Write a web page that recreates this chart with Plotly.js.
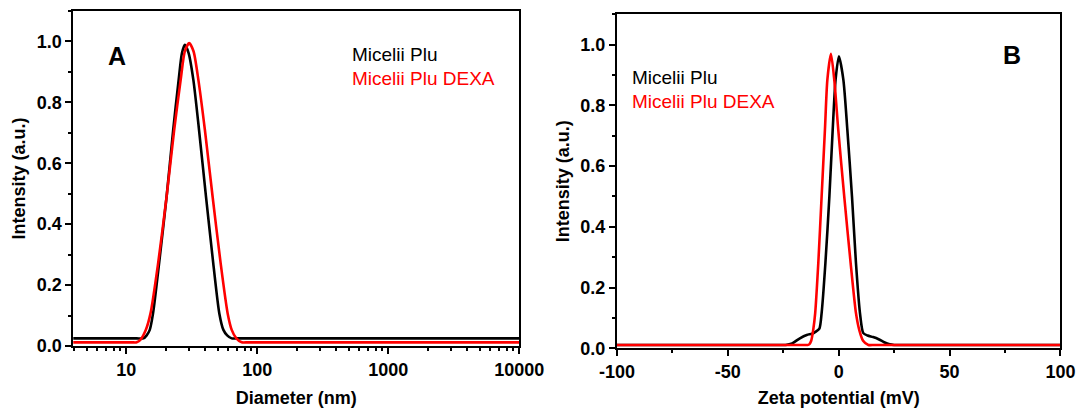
<!DOCTYPE html>
<html>
<head>
<meta charset="utf-8">
<script src="https://cdn.plot.ly/plotly-3.0.1.min.js"></script>
<style>
  html, body { margin: 0; padding: 0; background: #fff; }
  #chart { width: 1076px; height: 408px; }
</style>
</head>
<body>
<div id="chart"></div>
<script>
// Panel A: size distribution (diameter, nm)
const diamPlu = [3.9, 6, 9, 12, 13.5, 14.3, 15.1, 16.0, 17.8, 20.3, 22.8, 25.1, 26.6, 28.0, 29.9, 32.5, 35.9, 40.6, 46.1, 51.3, 55.1, 58.9, 63.8, 70, 90, 150, 400, 1000, 3000, 10000];
const intPlu  = [0.025, 0.025, 0.025, 0.025, 0.025, 0.035, 0.053, 0.107, 0.272, 0.49, 0.71, 0.874, 0.962, 0.989, 0.962, 0.874, 0.71, 0.49, 0.272, 0.107, 0.053, 0.035, 0.025, 0.025, 0.025, 0.025, 0.025, 0.025, 0.025, 0.025];

const diamDexa = [3.9, 6, 9, 11, 12.0, 12.9, 14.1, 15.3, 17.5, 20.3, 23.2, 26.0, 28.0, 30.2, 32.6, 35.5, 39.8, 45.6, 52.5, 59.4, 63.8, 69.2, 76.0, 85, 110, 200, 500, 1000, 3000, 10000];
const intDexa  = [0.012, 0.012, 0.012, 0.012, 0.012, 0.022, 0.053, 0.107, 0.272, 0.49, 0.71, 0.874, 0.968, 0.995, 0.968, 0.874, 0.71, 0.49, 0.272, 0.107, 0.053, 0.025, 0.012, 0.012, 0.012, 0.012, 0.012, 0.012, 0.012, 0.012];

// Panel B: zeta potential distribution (mV)
const zetaPlu    = [-100, -75, -50, -35, -28, -24, -21, -17.5, -14.4, -12, -10.5, -8.7, -7.7, -6.0, -4.2, -2.7, -1.4, 0.1, 2.1, 3.9, 6.0, 7.8, 9.6, 11.1, 13, 15.5, 18, 20.5, 23, 25, 29, 35, 50, 75, 100];
const zetaIntPlu = [0.011, 0.011, 0.011, 0.011, 0.011, 0.011, 0.016, 0.033, 0.044, 0.048, 0.054, 0.065, 0.116, 0.28, 0.50, 0.72, 0.885, 0.962, 0.885, 0.72, 0.50, 0.28, 0.116, 0.05, 0.042, 0.037, 0.03, 0.02, 0.013, 0.011, 0.011, 0.011, 0.011, 0.011, 0.011];

const zetaDexa    = [-100, -75, -50, -30, -20, -16, -14, -13.3, -12.4, -11.5, -10.6, -9.2, -7.7, -6.2, -5.1, -3.5, -2.0, -0.2, 2.5, 5.4, 7.8, 9.3, 11, 13.4, 16, 20, 30, 50, 75, 100];
const zetaIntDexa = [0.011, 0.011, 0.011, 0.011, 0.011, 0.011, 0.011, 0.013, 0.025, 0.06, 0.116, 0.28, 0.50, 0.72, 0.885, 0.970, 0.885, 0.72, 0.50, 0.28, 0.116, 0.06, 0.025, 0.011, 0.011, 0.011, 0.011, 0.011, 0.011, 0.011];

// Axis tick labels
const diamTicks = [10, 100, 1000, 10000];
const diamTickText = ['10', '100', '1000', '10000'];
const zetaTicks = [-100, -50, 0, 50, 100];
const zetaTickText = ['-100', '-50', '0', '50', '100'];

const seriesNames = ['Micelii Plu', 'Micelii Plu DEXA'];
const seriesColors = ['#000000', '#ff0000'];

const FONT = 'Liberation Sans, Arial, sans-serif';
const tickFont = { family: FONT, size: 18, color: '#000', weight: 'bold' };
const titleFont = { family: FONT, size: 18, color: '#000', weight: 'bold' };

function line(x, y, i, xa, ya) {
  return {
    x: x, y: y, xaxis: xa, yaxis: ya, name: seriesNames[i],
    type: 'scatter', mode: 'lines',
    line: { color: seriesColors[i], width: 2.6, shape: 'spline', smoothing: 0.7 },
    showlegend: false, hoverinfo: 'x+y'
  };
}

const traces = [
  line(diamPlu, intPlu, 0, 'x', 'y'),
  line(diamDexa, intDexa, 1, 'x', 'y'),
  line(zetaPlu, zetaIntPlu, 0, 'x2', 'y2'),
  line(zetaDexa, zetaIntDexa, 1, 'x2', 'y2')
];

const frame = {
  showline: true, linecolor: '#000', linewidth: 2, mirror: true,
  showgrid: false, zeroline: false,
  ticks: 'outside', ticklen: 6, tickwidth: 2, tickcolor: '#000',
  tickfont: tickFont
};

const yFrame = Object.assign({}, frame, {
  range: [0, 1.1], dtick: 0.2, tick0: 0, tickformat: '.1f',
  minor: { dtick: 0.1, ticks: 'outside', ticklen: 3, tickwidth: 2, tickcolor: '#000' }
});

const layout = {
  width: 1076, height: 408,
  margin: { l: 0, r: 0, t: 0, b: 0 },
  paper_bgcolor: '#fff', plot_bgcolor: '#fff',
  showlegend: false,
  xaxis: Object.assign({}, frame, {
    type: 'log', range: [0.595, 4.0005],
    tickmode: 'array', tickvals: diamTicks, ticktext: diamTickText,
    domain: [0.0681, 0.4826], anchor: 'y',
    minor: { dtick: 'D1', ticks: 'outside', ticklen: 3, tickwidth: 2, tickcolor: '#000' },
    title: { text: 'Diameter (nm)', font: titleFont, standoff: 15 }
  }),
  yaxis: Object.assign({}, yFrame, {
    domain: [0.152, 0.973], anchor: 'x',
    title: { text: 'Intensity (a.u.)', font: titleFont, standoff: 6 }
  }),
  xaxis2: Object.assign({}, frame, {
    range: [-100, 100],
    tickmode: 'array', tickvals: zetaTicks, ticktext: zetaTickText,
    domain: [0.5734, 0.9855], anchor: 'y2',
    minor: { dtick: 25, tick0: 0, ticks: 'outside', ticklen: 3, tickwidth: 2, tickcolor: '#000' },
    title: { text: 'Zeta potential (mV)', font: titleFont, standoff: 15 }
  }),
  yaxis2: Object.assign({}, yFrame, {
    domain: [0.1463, 0.965], anchor: 'x2',
    title: { text: 'Intensity (a.u.)', font: titleFont, standoff: 6 }
  }),
  annotations: [
    { text: 'A', xref: 'paper', yref: 'paper', x: 117 / 1076, y: (408 - 56) / 408,
      xanchor: 'center', yanchor: 'middle', showarrow: false,
      font: { family: FONT, size: 25, color: '#000', weight: 'bold' } },
    { text: 'B', xref: 'paper', yref: 'paper', x: 1012 / 1076, y: (408 - 55) / 408,
      xanchor: 'center', yanchor: 'middle', showarrow: false,
      font: { family: FONT, size: 25, color: '#000', weight: 'bold' } },
    { text: seriesNames[0], xref: 'paper', yref: 'paper', x: 350 / 1076, y: (408 - 55) / 408,
      xanchor: 'left', yanchor: 'middle', showarrow: false,
      font: { family: FONT, size: 19, color: seriesColors[0] } },
    { text: seriesNames[1], xref: 'paper', yref: 'paper', x: 350 / 1076, y: (408 - 79) / 408,
      xanchor: 'left', yanchor: 'middle', showarrow: false,
      font: { family: FONT, size: 19, color: seriesColors[1] } },
    { text: seriesNames[0], xref: 'paper', yref: 'paper', x: 630 / 1076, y: (408 - 77) / 408,
      xanchor: 'left', yanchor: 'middle', showarrow: false,
      font: { family: FONT, size: 19, color: seriesColors[0] } },
    { text: seriesNames[1], xref: 'paper', yref: 'paper', x: 630 / 1076, y: (408 - 101) / 408,
      xanchor: 'left', yanchor: 'middle', showarrow: false,
      font: { family: FONT, size: 19, color: seriesColors[1] } }
  ]
};

Plotly.newPlot('chart', traces, layout, { staticPlot: true, displayModeBar: false });
</script>
</body>
</html>
